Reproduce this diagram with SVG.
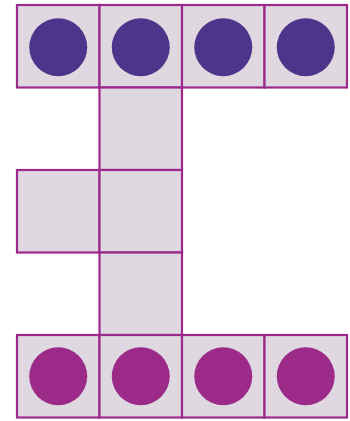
<svg xmlns="http://www.w3.org/2000/svg" width="350" height="421" viewBox="0 0 350 421">
<style>
.sq{fill:#dfd8e1;stroke:#9c2a8c;stroke-width:2.2}
.top{fill:#4e358b}
.bot{fill:#9c2a88}
</style>
<rect width="350" height="421" fill="#ffffff"/>
<g id="squares">
<rect class="sq" x="17" y="5" width="82.5" height="82.5"/>
<rect class="sq" x="99.5" y="5" width="82.5" height="82.5"/>
<rect class="sq" x="182" y="5" width="82.5" height="82.5"/>
<rect class="sq" x="264.5" y="5" width="82.5" height="82.5"/>
<rect class="sq" x="99.5" y="87.5" width="82.5" height="82.5"/>
<rect class="sq" x="17" y="170" width="82.5" height="82.5"/>
<rect class="sq" x="99.5" y="170" width="82.5" height="82.5"/>
<rect class="sq" x="99.5" y="252.5" width="82.5" height="82.5"/>
<rect class="sq" x="17" y="335" width="82.5" height="82.5"/>
<rect class="sq" x="99.5" y="335" width="82.5" height="82.5"/>
<rect class="sq" x="182" y="335" width="82.5" height="82.5"/>
<rect class="sq" x="264.5" y="335" width="82.5" height="82.5"/>
</g>
<g id="top-circles">
<circle class="top" cx="58.25" cy="47.25" r="29"/>
<circle class="top" cx="140.75" cy="47.25" r="29"/>
<circle class="top" cx="223.25" cy="47.25" r="29"/>
<circle class="top" cx="305.75" cy="47.25" r="29"/>
</g>
<g id="bottom-circles">
<circle class="bot" cx="58.25" cy="376.25" r="29"/>
<circle class="bot" cx="140.75" cy="376.25" r="29"/>
<circle class="bot" cx="223.25" cy="376.25" r="29"/>
<circle class="bot" cx="305.75" cy="376.25" r="29"/>
</g>
</svg>
